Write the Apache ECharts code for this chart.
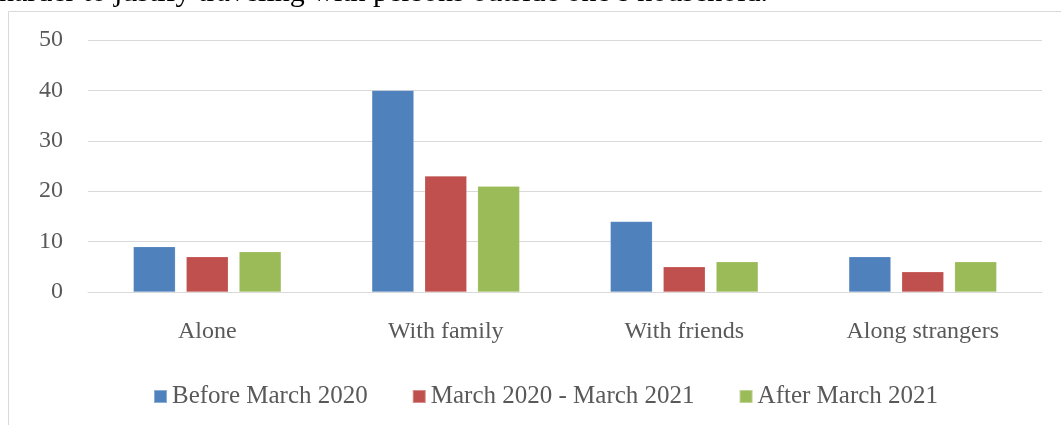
<!DOCTYPE html>
<html>
<head>
<meta charset="utf-8">
<script src="https://cdn.jsdelivr.net/npm/echarts@6/dist/echarts.min.js"></script>
<style>
    html, body { margin: 0; padding: 0; background: #fff; }
    #chart { width: 1061px; height: 425px; }
</style>
</head>
<body>
<div id="chart"></div>
<script>
const categories = ['Alone', 'With family', 'With friends', 'Along strangers'];
const seriesNames = ['Before March 2020', 'March 2020 - March 2021', 'After March 2021'];
const beforeValues = [9, 40, 14, 7];
const duringValues = [7, 23, 5, 4];
const afterValues = [8, 21, 6, 6];
const yTicks = { min: 0, max: 50, interval: 10 };

const colors = ['#4F81BD', '#C0504D', '#9BBB59'];
const font = '"Liberation Serif", "DejaVu Serif", serif';

const makeBar = (name, data) => ({
    name: name,
    type: 'bar',
    data: data,
    barWidth: '17.6%',
    barGap: '26%',
    itemStyle: { borderColor: 'rgba(255,255,255,0.35)', borderWidth: 0.5 },
});

const option = {
    color: colors,
    animation: false,
    textStyle: { fontFamily: font },
    graphic: [
        {
            type: 'rect',
            shape: { x: 8.5, y: 11.5, width: 1200, height: 600 },
            style: { fill: 'none', stroke: '#d9d9d9', lineWidth: 1 },
            silent: true,
        },
        {
            type: 'text',
            left: -1,
            top: -22,
            style: {
                text: 'harder to justify traveling with persons outside one\u2019s household.',
                fontFamily: font,
                fontSize: 30,
                fill: '#000',
            },
        },
    ],
    legend: {
        left: 148,
        top: 379,
        itemWidth: 13,
        itemHeight: 13,
        itemGap: 44,
        icon: 'rect',
        textStyle: { color: '#595959', fontSize: 25, fontFamily: font },
        data: seriesNames,
    },
    grid: {
        left: 88,
        right: 19,
        top: 40,
        bottom: 133,
        containLabel: false,
    },
    xAxis: {
        type: 'category',
        data: categories,
        axisTick: { show: false },
        axisLine: { lineStyle: { color: '#d9d9d9', width: 1 } },
        axisLabel: { color: '#595959', fontSize: 24, fontFamily: font, margin: 28 },
    },
    yAxis: {
        type: 'value',
        min: yTicks.min,
        max: yTicks.max,
        interval: yTicks.interval,
        axisLine: { show: false },
        axisTick: { show: false },
        axisLabel: { color: '#595959', fontSize: 24, fontFamily: font, margin: 25 },
        splitLine: { lineStyle: { color: '#d9d9d9', width: 1 } },
    },
    series: [
        makeBar(seriesNames[0], beforeValues),
        makeBar(seriesNames[1], duringValues),
        makeBar(seriesNames[2], afterValues),
    ],
};

let myChart = echarts.init(document.getElementById('chart'));
myChart.setOption(option);
</script>
</body>
</html>
